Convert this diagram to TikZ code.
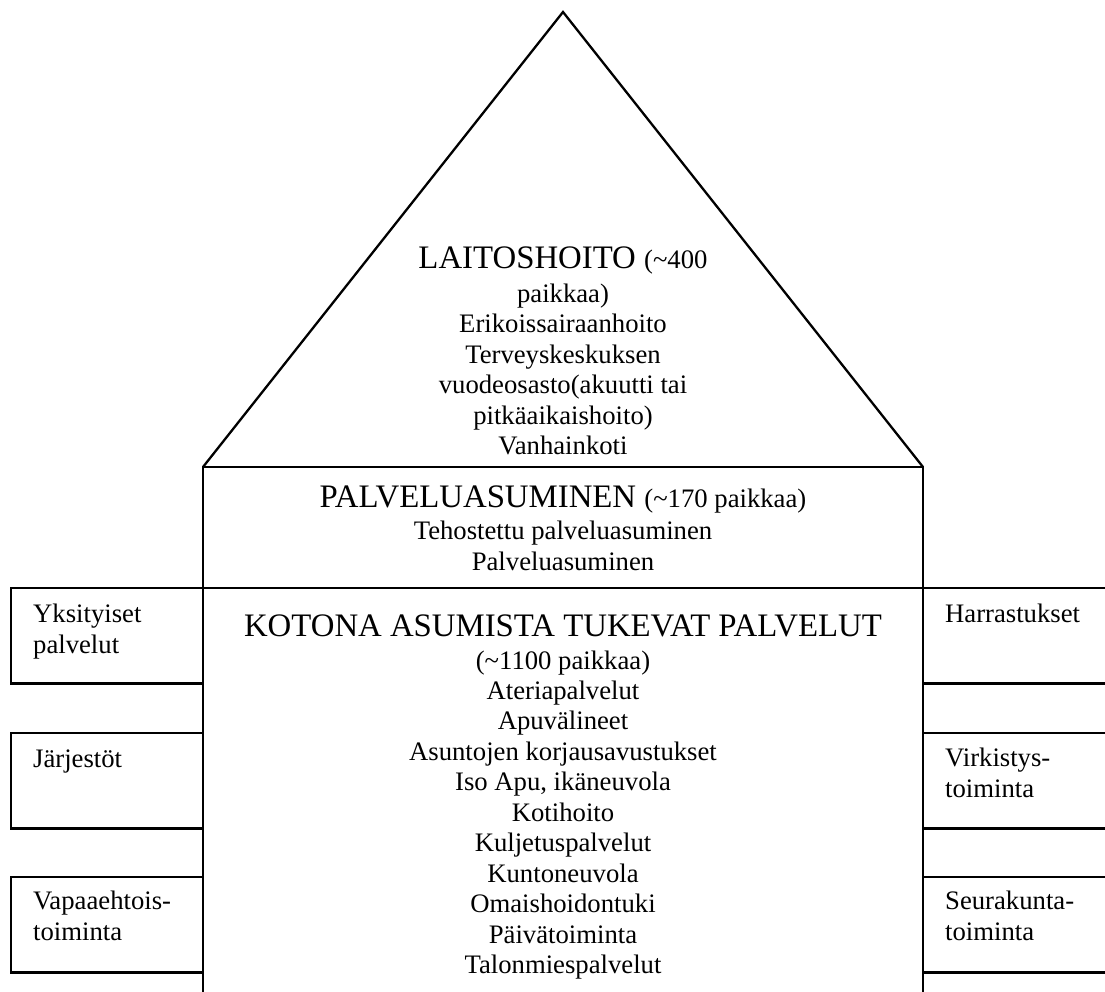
\documentclass[tikz,border=0pt]{standalone}
\usepackage{fontspec}
\setmainfont{Liberation Serif}
\newcommand\headtxt{\fontsize{32.8}{36}\selectfont}
\newcommand\bodytxt{\fontsize{26.7}{30.7}\selectfont}

\begin{document}
\begin{tikzpicture}[x=1pt, y=-1pt, line width=2.3pt,
  line/.style={inner sep=0pt, anchor=base, font=\bodytxt},
  head/.style={inner sep=0pt, anchor=base, font=\headtxt},
  side/.style={inner sep=0pt, anchor=base west, font=\bodytxt}]
\useasboundingbox (0,0) rectangle (1105,992);

% roof
\coordinate (apex)  at (563,12);
\coordinate (eaveL) at (203,467);
\coordinate (eaveR) at (923,467);
\draw (eaveL) -- (apex) -- (eaveR);

% service housing storey
\coordinate (midL) at (203,588);
\coordinate (midR) at (923,588);
\draw (eaveL) -- (eaveR) -- (midR) -- (midL) -- cycle;

% ground storey walls (open at the bottom)
\coordinate (footL) at (203,992);
\coordinate (footR) at (923,992);
\draw (midL) -- (footL);
\draw (midR) -- (footR);

% side boxes
\foreach \t [count=\i] in {588,733,877}{
  \draw (11,\t) rectangle (203,\t+95.5);
  \draw (1105,\t) -- (923,\t) -- (923,\t+95.5) -- (1105,\t+95.5);
}

% roof text
\node[head] (laitos) at (563,269) {LAITOSHOITO {\bodytxt(\textasciitilde400}};
\node[line] (r1) at (563,302) {paikkaa)};
\node[line] (r2) at (563,332) {Erikoissairaanhoito};
\node[line] (r3) at (563,363) {Terveyskeskuksen};
\node[line] (r4) at (563,393) {vuodeosasto(akuutti tai};
\node[line] (r5) at (563,424) {pitkäaikaishoito)};
\node[line] (r6) at (563,454) {Vanhainkoti};

% service housing text
\node[head] (palvelu) at (563,507) {PALVELUASUMINEN {\bodytxt(\textasciitilde170 paikkaa)}};
\node[line] (p1) at (563,539) {Tehostettu palveluasuminen};
\node[line] (p2) at (563,570) {Palveluasuminen};

% home care text
\node[head] (kotona) at (563,636) {KOTONA ASUMISTA TUKEVAT PALVELUT};
\node[line] (k0) at (563,669) {(\textasciitilde1100 paikkaa)};
\foreach \s [count=\i] in {Ateriapalvelut,Apuvälineet,Asuntojen korjausavustukset,
  {Iso Apu, ikäneuvola},Kotihoito,Kuljetuspalvelut,Kuntoneuvola,Omaishoidontuki,
  Päivätoiminta,Talonmiespalvelut}{
  \node[line] (k\i) at (563,668.5+30.5*\i) {\s};
}

% side box labels
\node[side] (yks1) at (32,622) {Yksityiset};
\node[side] (yks2) at (32,653) {palvelut};
\node[side] (jar)  at (32,767) {Järjestöt};
\node[side] (vap1) at (32,909) {Vapaaehtois-};
\node[side] (vap2) at (32,940) {toiminta};

\node[side] (har)  at (944,622) {Harrastukset};
\node[side] (vir1) at (944,766) {Virkistys-};
\node[side] (vir2) at (944,797) {toiminta};
\node[side] (seu1) at (944,909) {Seurakunta-};
\node[side] (seu2) at (944,940) {toiminta};
\end{tikzpicture}
\end{document}
